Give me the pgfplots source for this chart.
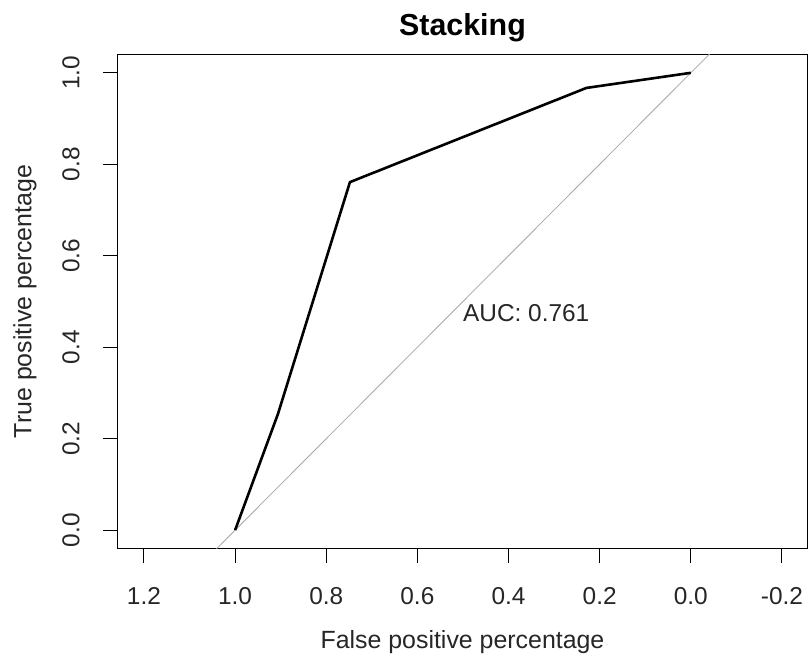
\documentclass[border=0pt]{standalone}
\usepackage{pgfplots}
\pgfplotsset{compat=1.18}
\usepackage{fontspec}
\setmainfont{Liberation Sans}

\pgfplotstableread{
spec sens
1.000 0.000
0.906 0.254
0.748 0.761
0.229 0.967
0.000 1.000
}\roc

\begin{document}
\begin{tikzpicture}
\begin{axis}[
  scale only axis,
  width=689bp, height=493bp,
  x dir=reverse,
  xmin=-0.255, xmax=1.257,
  ymin=-0.039, ymax=1.039,
  xtick={-0.2,0,0.2,0.4,0.6,0.8,1.0,1.2},
  xticklabels={-0.2,0.0,0.2,0.4,0.6,0.8,1.0,1.2},
  ytick={0,0.2,0.4,0.6,0.8,1.0},
  yticklabels={0.0,0.2,0.4,0.6,0.8,1.0},
  xtick pos=bottom, ytick pos=left,
  tick align=outside,
  major tick length=15bp,
  axis line style={line width=1bp},
  every tick/.style={black, line width=1bp},
  tick label style={font=\fontsize{24.5}{29}\selectfont, text=black!85},
  xticklabel style={anchor=center, yshift=-33bp},
  yticklabel style={anchor=center, xshift=-32bp, rotate=90},
  every axis x label/.style={at={(rel axis cs:0.5,0)}, anchor=center, yshift=-94bp},
  every axis y label/.style={at={(rel axis cs:0,0.5)}, anchor=center, xshift=-93bp, rotate=90},
  every axis title/.style={at={(rel axis cs:0.5,1)}, anchor=center, yshift=27bp},
  label style={font=\fontsize{25}{30}\selectfont, text=black!85},
  title style={font=\fontsize{30.5}{36}\selectfont\bfseries},
  xlabel={False positive percentage},
  ylabel={True positive percentage},
  title={Stacking},
  clip=true,
]
\addplot[color=black!35, line width=0.8bp] coordinates {(1.2,-0.2) (-0.2,1.2)};
\addplot[black, line width=2.6bp, line join=round] table[x=spec, y=sens] {\roc};
\node[anchor=north west, inner sep=0pt, font=\fontsize{24.5}{29}\selectfont, text=black!85, yshift=-3bp]
  at (axis cs:0.5,0.5) {AUC: 0.761};
\end{axis}
\pgfresetboundingbox
\path[use as bounding box] ([shift={(-118bp,-114bp)}]current axis.south west) rectangle ([shift={(1bp,55bp)}]current axis.north east);
\end{tikzpicture}
\end{document}
